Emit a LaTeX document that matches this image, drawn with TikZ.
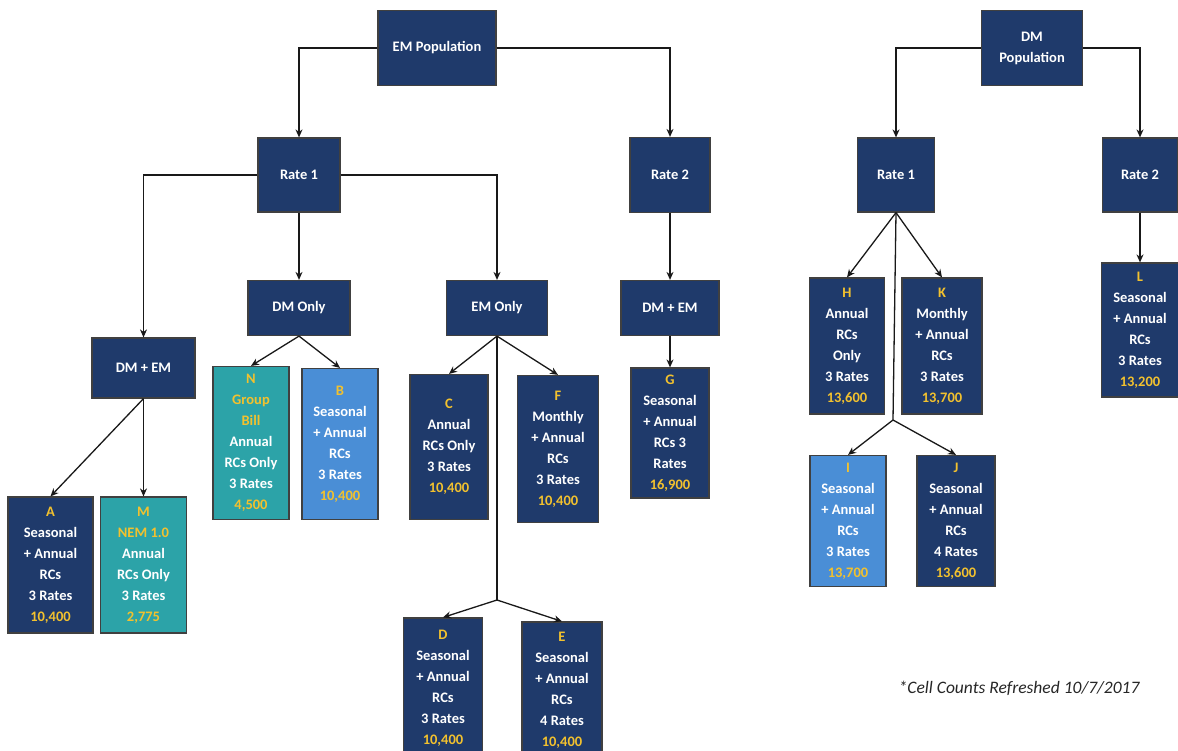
\documentclass[tikz,border=0pt]{standalone}
\usepackage{fontspec}
\setmainfont{Carlito}
\usetikzlibrary{arrows.meta}
\definecolor{navy}{HTML}{1F3A6B}
\definecolor{tealbox}{HTML}{2CA3A8}
\definecolor{lblue}{HTML}{4A8ED6}
\definecolor{gold}{HTML}{F2C12E}
\newcommand{\hl}[1]{\textcolor{gold}{#1}}
\tikzset{
  box/.style={draw=black!75, line width=1.2pt, fill=navy, text=white,
    font=\bfseries\fontsize{14.5}{21}\selectfont, align=center, inner sep=0pt},
  conn/.style={line width=1.3pt, draw=black!90},
  arr/.style={conn, -{Stealth[length=8pt,width=7pt]}},
  note/.style={font=\itshape\fontsize{17.5}{20}\selectfont, text=black!85}
}
\begin{document}
\begin{tikzpicture}[x=1pt,y=-1pt]
\useasboundingbox (0,0) rectangle (1178,751);
\fill[white] (0,0) rectangle (1178,751);
% top level
\node[box, minimum width=118, minimum height=75] (emp) at (437,48) {EM Population};
\node[box, minimum width=101, minimum height=75] (dmp) at (1032,48) {DM\\Population};
% rates
\node[box, minimum width=82, minimum height=74] (er1) at (299,175) {Rate 1};
\node[box, minimum width=80, minimum height=75] (er2) at (670,175) {Rate 2};
\node[box, minimum width=77, minimum height=74] (dr1) at (896,175) {Rate 1};
\node[box, minimum width=75, minimum height=74] (dr2) at (1140,175) {Rate 2};
% second level
\node[box, minimum width=103, minimum height=60] (dmem1) at (143.5,368) {DM + EM};
\node[box, minimum width=102, minimum height=55] (dmonly) at (299,308) {DM Only};
\node[box, minimum width=101, minimum height=55] (emonly) at (497,308) {EM Only};
\node[box, minimum width=98, minimum height=55] (dmem2) at (670,308) {DM + EM};
% leaves
\node[box, minimum width=85, minimum height=136] (A) at (50.5,565)
  {\hl{A}\\Seasonal\\+ Annual\\RCs\\3 Rates\\\hl{10,400}};
\node[box, fill=tealbox, minimum width=86, minimum height=136] (M) at (143.5,565)
  {\hl{M}\\\hl{NEM 1.0}\\Annual\\RCs Only\\3 Rates\\\hl{2,775}};
\node[box, fill=tealbox, minimum width=76, minimum height=153] (N) at (251,443)
  {\hl{N}\\\hl{Group}\\\hl{Bill}\\Annual\\RCs Only\\3 Rates\\\hl{4,500}};
\node[box, fill=lblue, minimum width=76, minimum height=151] (B) at (340,444)
  {\hl{B}\\Seasonal\\+ Annual\\RCs\\3 Rates\\\hl{10,400}};
\node[box, minimum width=78, minimum height=145] (C) at (449,447)
  {\hl{C}\\Annual\\RCs Only\\3 Rates\\\hl{10,400}};
\node[box, minimum width=81, minimum height=147] (F) at (558,449)
  {\hl{F}\\Monthly\\+ Annual\\RCs\\3 Rates\\\hl{10,400}};
\node[box, minimum width=78, minimum height=130] (G) at (670,433)
  {\hl{G}\\Seasonal\\+ Annual\\RCs 3\\Rates\\\hl{16,900}};
\node[box, minimum width=79, minimum height=140] (D) at (443,688)
  {\hl{D}\\Seasonal\\+ Annual\\RCs\\3 Rates\\\hl{10,400}};
\node[box, minimum width=80, minimum height=136] (E) at (562,690)
  {\hl{E}\\Seasonal\\+ Annual\\RCs\\4 Rates\\\hl{10,400}};
\node[box, minimum width=75, minimum height=136] (H) at (847,346)
  {\hl{H}\\Annual\\RCs\\Only\\3 Rates\\\hl{13,600}};
\node[box, minimum width=80, minimum height=136] (K) at (942,346)
  {\hl{K}\\Monthly\\+ Annual\\RCs\\3 Rates\\\hl{13,700}};
\node[box, fill=lblue, minimum width=76, minimum height=131] (I) at (848,521)
  {\hl{I}\\Seasonal\\+ Annual\\RCs\\3 Rates\\\hl{13,700}};
\node[box, minimum width=78, minimum height=131] (J) at (956,521)
  {\hl{J}\\Seasonal\\+ Annual\\RCs\\4 Rates\\\hl{13,600}};
\node[box, minimum width=77, minimum height=134] (L) at (1140,330)
  {\hl{L}\\Seasonal\\+ Annual\\RCs\\3 Rates\\\hl{13,200}};
% note
\node[note, anchor=east] (nt) at (1143,688) {*Cell Counts Refreshed 10/7/2017};
% split coordinates
\coordinate (emsplit) at (497,600);
\coordinate (dmsplit) at (893,420);
% connectors EM
\draw[arr] (emp.west) -| (er1.north);
\draw[arr] (emp.east) -| (er2.north);
\draw[arr] (er1.west) -| (dmem1.north);
\draw[arr] (er1.east) -| (emonly.north);
\draw[arr] (er1.south) -- (dmonly.north);
\draw[arr] (er2.south) -- (dmem2.north);
\draw[arr] (dmem1.south) -- (A.north);
\draw[arr] (dmem1.south) -- (M.north);
\draw[arr] (dmonly.south) -- (N.north);
\draw[arr] (dmonly.south) -- (B.north);
\draw[arr] (emonly.south) -- (C.north);
\draw[arr] (emonly.south) -- (F.north);
\draw[conn] (emonly.south) -- (emsplit);
\draw[arr] (emsplit) -- (D.north);
\draw[arr] (emsplit) -- (E.north);
\draw[arr] (dmem2.south) -- (G.north);
% connectors DM
\draw[arr] (dmp.west) -| (dr1.north);
\draw[arr] (dmp.east) -| (dr2.north);
\draw[arr] (dr1.south) -- (H.north);
\draw[arr] (dr1.south) -- (K.north);
\draw[conn] (dr1.south) -- (dmsplit);
\draw[arr] (dmsplit) -- (I.north);
\draw[arr] (dmsplit) -- (J.north);
\draw[arr] (dr2.south) -- (L.north);
\end{tikzpicture}
\end{document}
